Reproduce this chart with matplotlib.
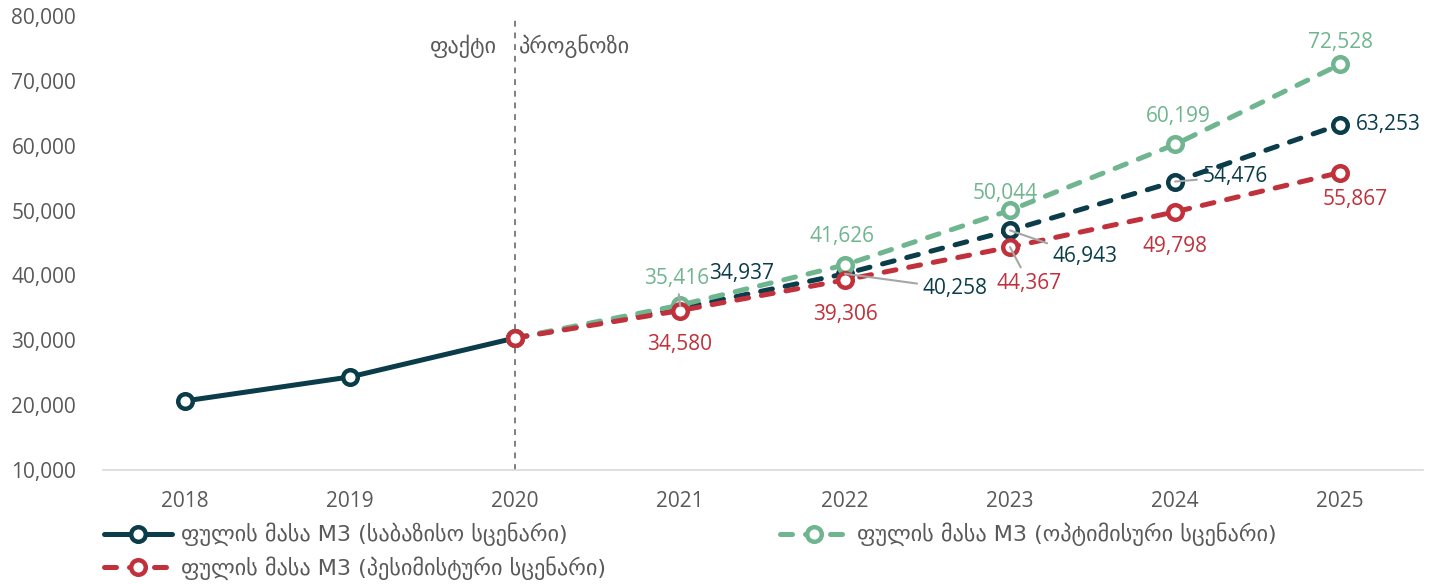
import numpy as np
import matplotlib.pyplot as plt
from matplotlib.lines import Line2D

plt.rcParams['font.family'] = ['Open Sans', 'DejaVu Sans']

years = ['2018', '2019', '2020', '2021', '2022', '2023', '2024', '2025']
fact = [20650, 24350, 30350]  # 2018-2020
base = [30350, 34937, 40258, 46943, 54476, 63253]  # 2020-2025
optim = [30350, 35416, 41626, 50044, 60199, 72528]
pessim = [30350, 34580, 39306, 44367, 49798, 55867]

lbl_base = 'ფულის მასა M3 (საბაზისო სცენარი)'
lbl_opt = 'ფულის მასა M3 (ოპტიმისური სცენარი)'
lbl_pes = 'ფულის მასა M3 (პესიმისტური სცენარი)'

c_base = '#0B3C49'
c_opt = '#6FB58F'
c_pes = '#C0313C'
grey_txt = '#595959'
lead = '#A6A6A6'

fig = plt.figure(figsize=(14.34, 5.84), dpi=100)
ax = fig.add_axes([0.0715, 0.1952, 0.9205, 0.7774])

x_fact = np.arange(0, 3)
x_fc = np.arange(2, 8)
mk = dict(marker='o', markersize=10.5, markerfacecolor='white', markeredgewidth=3.2)
dash = (2.4, 2.6)

ax.plot(x_fact, fact, color=c_base, lw=3.6, solid_capstyle='round', zorder=3, **mk)
ax.plot(x_fc, base, color=c_base, lw=3.6, linestyle=(0, dash), dash_capstyle='round', zorder=3, **mk)
ax.plot(x_fc, optim, color=c_opt, lw=3.6, linestyle=(0, dash), dash_capstyle='round', zorder=4, **mk)
ax.plot(x_fc, pessim, color=c_pes, lw=3.6, linestyle=(0, dash), dash_capstyle='round', zorder=5, **mk)

# data labels: offsets in pixels (dx, dy, y down), leader line flag
off_opt = [(-3, -27, True), (-3, -28, False), (-5, -17, False), (3, -28, False), (0, -22, False)]
off_base = [(62, -35, False), (110, 15, True), (75, 26, True), (60, -5, True), (48, 0, False)]
off_pes = [(0, 34, False), (0, 35, False), (19, 36, True), (0, 35, False), (15, 27, False)]


def put_labels(vals, offs, color):
    for i, (v, (dx, dy, ld)) in enumerate(zip(vals[1:], offs)):
        ap = None
        if ld:
            ap = dict(arrowstyle='-', color=lead, lw=1.5, shrinkA=2, shrinkB=0)
        ax.annotate(f'{v:,}', (x_fc[i + 1], v), xytext=(dx * 0.72, -dy * 0.72),
                    textcoords='offset points', ha='center', va='center',
                    fontsize=15, color=color, arrowprops=ap, zorder=6)


put_labels(optim, off_opt, c_opt)
put_labels(base, off_base, c_base)
put_labels(pessim, off_pes, c_pes)

# fact / forecast divider
ax.axvline(2, color='#7F7F7F', lw=1.4, linestyle=(0, (3, 3)), zorder=1)
ax.text(1.89, 75300, 'ფაქტი', ha='right', va='center', fontsize=16, color=grey_txt,
        family='DejaVu Sans')
ax.text(2.025, 75300, 'პროგნოზი', ha='left', va='center', fontsize=16, color=grey_txt,
        family='DejaVu Sans')

ax.set_xlim(-0.5, 7.5)
ax.set_ylim(10000, 80000)
ax.set_xticks(range(len(years)))
ax.set_xticklabels(years)
ax.set_yticks(range(10000, 80001, 10000))
ax.set_yticklabels([f'{t:,}' for t in range(10000, 80001, 10000)])
ax.tick_params(axis='both', length=0, labelsize=15, colors=grey_txt)
ax.tick_params(axis='x', pad=15)
ax.tick_params(axis='y', pad=19)
for s in ['top', 'right', 'left']:
    ax.spines[s].set_visible(False)
ax.spines['bottom'].set_color('#D9D9D9')
ax.spines['bottom'].set_linewidth(1.2)

h_base = Line2D([], [], color=c_base, lw=3.6, solid_capstyle='round', **mk)
h_opt = Line2D([], [], color=c_opt, lw=3.6, linestyle=(0, dash), dash_capstyle='round', **mk)
h_pes = Line2D([], [], color=c_pes, lw=3.6, linestyle=(0, dash), dash_capstyle='round', **mk)
leg = fig.legend([h_base, h_pes, h_opt], [lbl_base, lbl_pes, lbl_opt], ncol=2,
                 loc='upper left', bbox_to_anchor=(0.066, 0.12), frameon=False,
                 fontsize=16, handlelength=3.1, columnspacing=7.8, labelspacing=0.45,
                 handletextpad=0.4, borderaxespad=0)
for t in leg.get_texts():
    t.set_color(grey_txt)
    t.set_family('DejaVu Sans')

fig.savefig('out.png', dpi=100)
